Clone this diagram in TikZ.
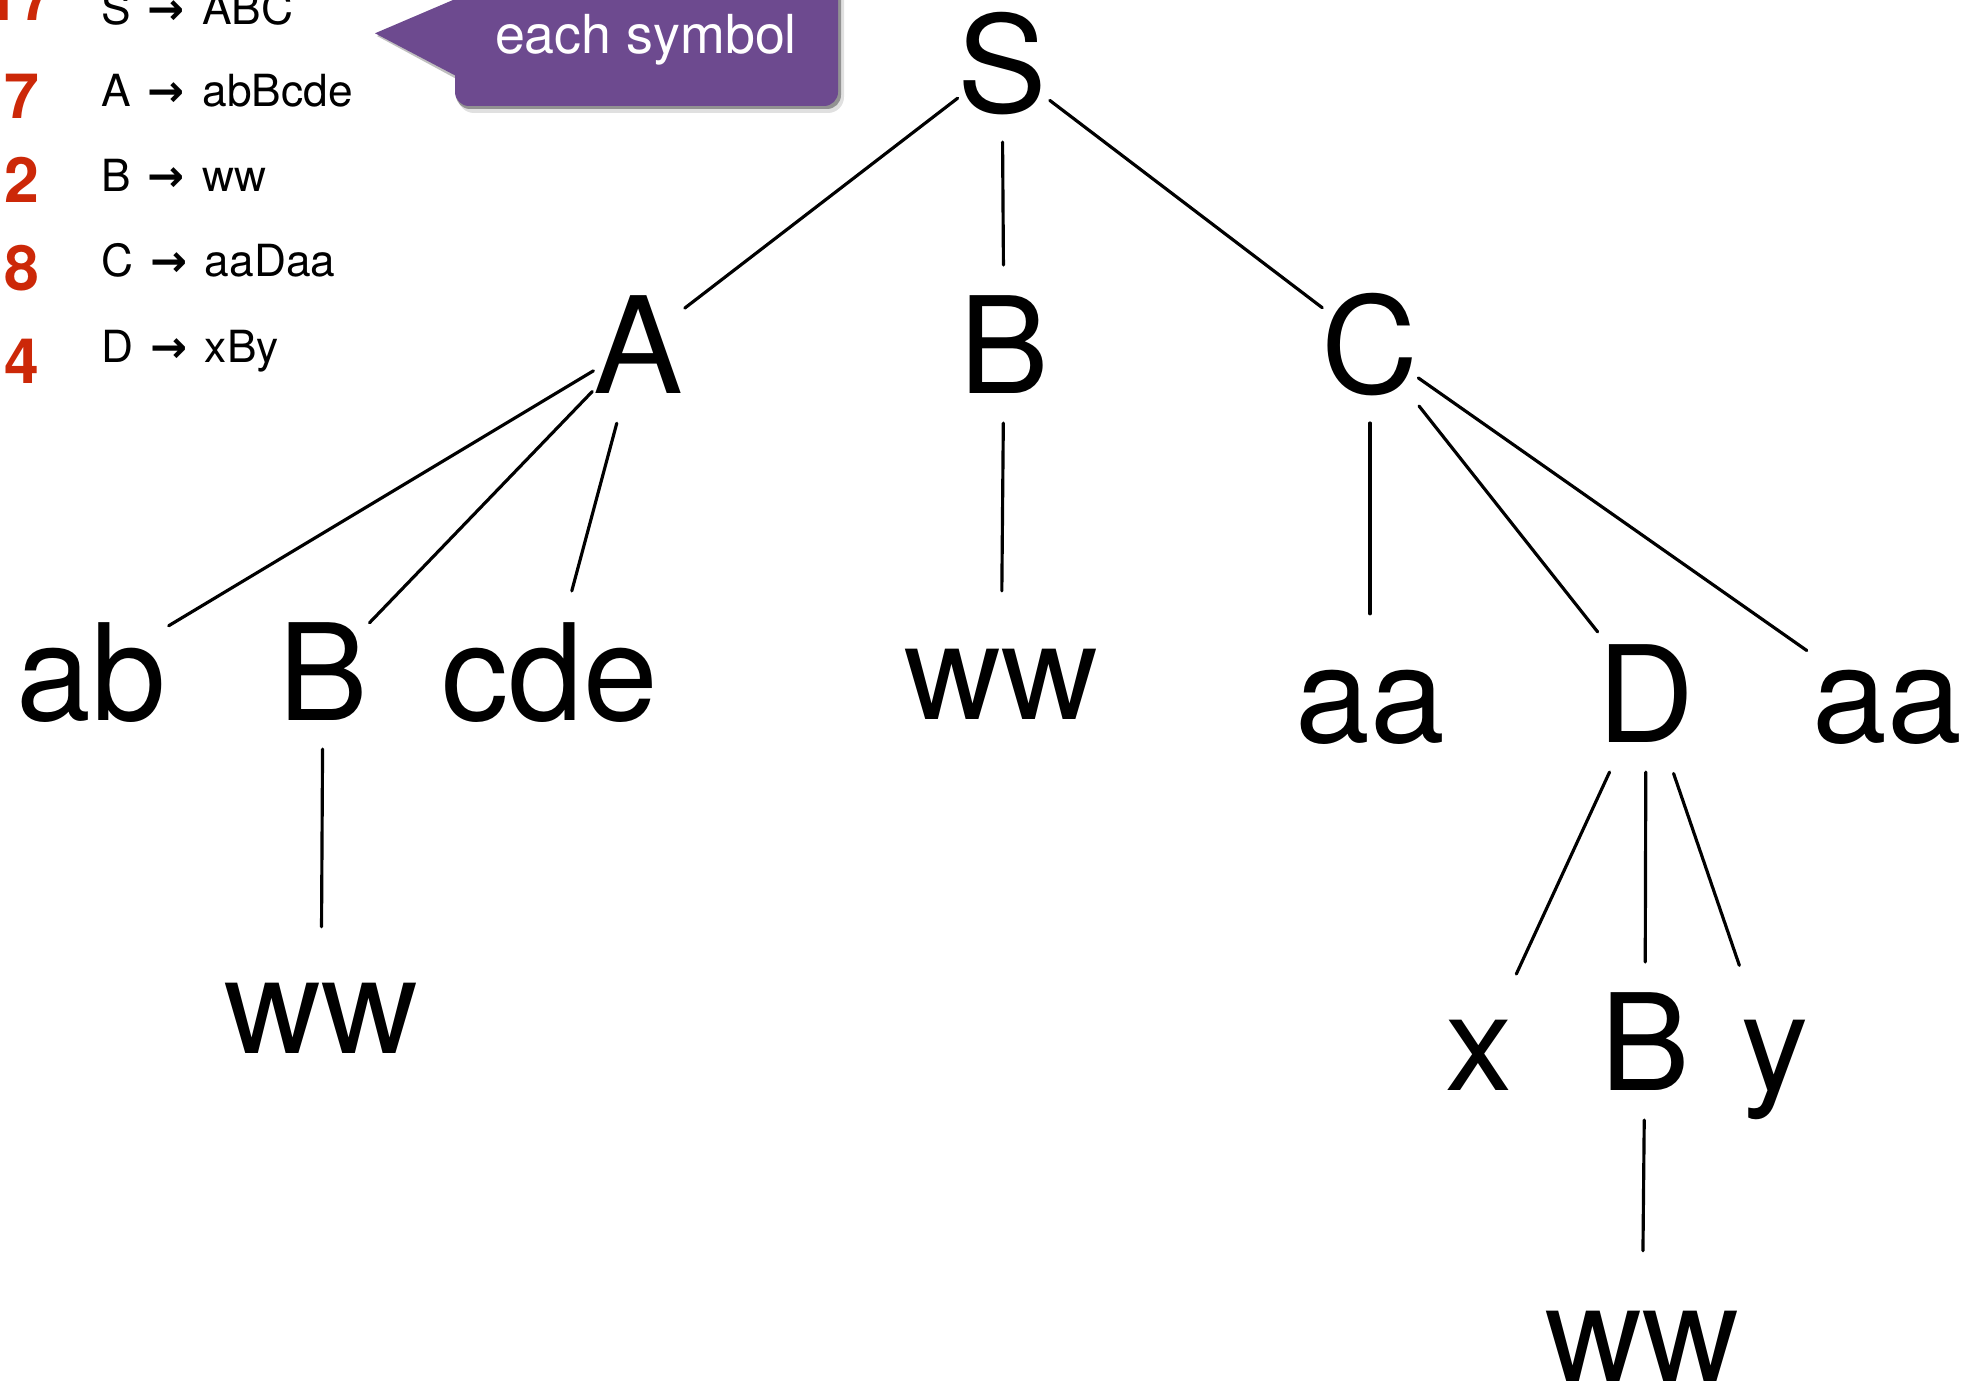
\documentclass[tikz,border=0pt]{standalone}
\usepackage{fontspec}
\setmainfont{TeX Gyre Heros}
\newfontfamily\arrowfont{DejaVu Sans}
\usepackage{xcolor}
\definecolor{notepurple}{RGB}{109,74,143}
\definecolor{countred}{RGB}{204,40,8}
\tikzset{gap/.style 2 args={shorten <=#1cm,shorten >=#2cm}}
\newcommand{\yields}{\hspace{1.2pt}{\arrowfont\bfseries →}\hspace{1.5pt}}

\begin{document}
\begin{tikzpicture}[
    sym/.style={anchor=base,inner sep=0pt,font=\fontsize{38.2}{44}\selectfont},
    rule/.style={anchor=base west,inner sep=0pt,font=\fontsize{12.6}{14}\selectfont},
    count/.style={anchor=base west,inner sep=0pt,text=countred,font=\fontsize{17.8}{20}\selectfont\bfseries},
    branch/.style={line width=0.9pt,line cap=round}
]
\useasboundingbox (0,0) rectangle (19.70,-13.80);
\clip (0,0) rectangle (19.70,-13.80);

% Counts and rules
\node[count] (nS) at (-0.16,-0.207) {17};
\node[count] (nA) at (0.035,-1.183) {7};
\node[count] (nB) at (0.04,-2.027) {2};
\node[count] (nC) at (0.035,-2.907) {8};
\node[count] (nD) at (0.04,-3.833) {4};

\node[rule] (rS) at (1.01,-0.25) {S \yields{} ABC};
\node[rule] (rA) at (1.01,-1.06) {A \yields{} abBcde};
\node[rule] (rB) at (1.01,-1.917) {B \yields{} ww};
\node[rule] (rC) at (1.01,-2.765) {C \yields{} aaDaa};
\node[rule] (rD) at (1.01,-3.627) {D \yields{} xBy};

% Note box
\fill[black,opacity=0.12,rounded corners=0.16cm] (4.58,1) rectangle (8.44,-1.13);
\fill[black,opacity=0.35,rounded corners=0.14cm] (4.56,1) rectangle (8.41,-1.09);
\fill[black,opacity=0.25] (4.62,0.01) -- (3.77,-0.36) -- (4.62,-0.82) -- cycle;
\fill[notepurple,rounded corners=0.14cm] (4.55,1) rectangle (8.38,-1.06);
\fill[notepurple] (4.60,0.03) -- (3.75,-0.333) -- (4.60,-0.78) -- cycle;
\node[anchor=base,inner sep=0pt,text=white,font=\fontsize{15.3}{17}\selectfont] (note) at (6.46,-0.533) {each symbol};

% Tree
\node[sym] (S) at (10.02,-1.13) {S};

\node[sym] (A) at (6.38,-3.93) {A};
\node[sym] (B) at (10.04,-3.93) {B};
\node[sym] (C) at (13.70,-3.93) {C};

\node[sym] (ab) at (0.915,-7.20) {ab};
\node[sym] (bA) at (3.23,-7.20) {B};
\node[sym] (cde) at (5.50,-7.20) {cde};
\node[sym] (ww2) at (10.01,-7.19) {ww};
\node[sym] (aa1) at (13.70,-7.42) {aa};
\node[sym] (D) at (16.46,-7.42) {D};
\node[sym] (aa2) at (18.87,-7.42) {aa};

\node[sym] (ww1) at (3.21,-10.53) {ww};
\node[sym] (x) at (14.79,-10.90) {x};
\node[sym] (bD) at (16.45,-10.90) {B};
\node[sym] (y) at (17.75,-10.90) {y};

\node[sym] (ww3) at (16.42,-13.81) {ww};

% Branches
\draw[branch,gap={0.56}{0.59}] (S.center) -- (A.center);
\draw[branch,gap={0.78}{0.79}] (S.center) -- (B.center);
\draw[branch,gap={0.60}{0.60}] (S.center) -- (C.center);
\draw[branch,gap={0.52}{0.90}] (A.center) -- (ab.center);
\draw[branch,gap={0.66}{0.67}] (A.center) -- (bA.center);
\draw[branch,gap={0.82}{0.84}] (A.center) -- (cde.center);
\draw[branch,gap={0.79}{0.93}] (B.center) -- (ww2.center);
\draw[branch,gap={0.79}{0.93}] (C.center) -- (aa1.center);
\draw[branch,gap={0.79}{0.78}] (C.center) -- (D.center);
\draw[branch,gap={0.59}{0.98}] (C.center) -- (aa2.center);
\draw[branch,gap={0.78}{0.91}] (bA.center) -- (ww1.center);
\draw[branch,gap={0.87}{0.89}] (D.center) -- (x.center);
\draw[branch,gap={0.79}{0.79}] (D.center) -- (bD.center);
\draw[branch,gap={0.85}{1.10}] (D.center) -- (y.center);
\draw[branch,gap={0.79}{0.95}] (bD.center) -- (ww3.center);
\end{tikzpicture}
\end{document}
